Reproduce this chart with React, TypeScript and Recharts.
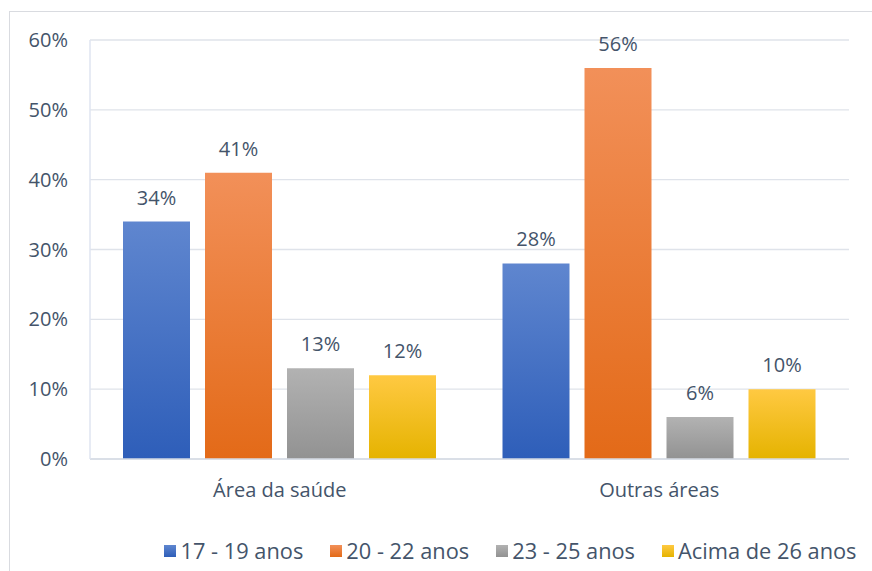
import React from "react";
import { BarChart, Bar, XAxis, YAxis, CartesianGrid, LabelList, Legend } from "recharts";

const categories = ["Área da saúde", "Outras áreas"];
const s1719 = [34, 28];
const s2022 = [41, 56];
const s2325 = [13, 6];
const sAcima = [12, 10];
const seriesNames = ["17 - 19 anos", "20 - 22 anos", "23 - 25 anos", "Acima de 26 anos"];
const yTicks = [0, 10, 20, 30, 40, 50, 60];

const data = categories.map((c, i) => ({
  name: c,
  a: s1719[i],
  b: s2022[i],
  c: s2325[i],
  d: sAcima[i],
}));

const grads = [
  { id: "gA", top: "#5f86cf", bot: "#2e5eb9" },
  { id: "gB", top: "#f29059", bot: "#e36a18" },
  { id: "gC", top: "#b2b2b2", bot: "#929292" },
  { id: "gD", top: "#ffc942", bot: "#e5b300" },
];
const keys = ["a", "b", "c", "d"];
const FONT = "'Open Sans', Lato, sans-serif";
const TXT = "#44546a";

const LegendContent = () => (
  <div
    style={{
      display: "flex",
      justifyContent: "center",
      fontFamily: FONT,
      fontSize: 21.8,
      color: TXT,
      paddingTop: 26,
      lineHeight: "28px",
      whiteSpace: "nowrap",
      transform: "translateX(81px)",
    }}
  >
    {seriesNames.map((n, i) => (
      <div key={n} style={{ display: "flex", alignItems: "center", flexShrink: 0, marginRight: i < 3 ? 27 : 0 }}>
        <div style={{ width: 12, height: 12, marginRight: 4, flexShrink: 0, background: `linear-gradient(${grads[i].top}, ${grads[i].bot})` }} />
        <span>{n}</span>
      </div>
    ))}
  </div>
);

export default function App() {
  return (
    <div style={{ position: "relative", width: 872, height: 571, overflow: "hidden", background: "#fff" }}>
      <style>{`body{margin:0}`}</style>
      <div style={{ position: "absolute", left: 9, top: 11, width: 900, height: 600, border: "1px solid #d9dbe0" }} />
      <div style={{ position: "absolute", left: 0, top: 0 }}>
        <BarChart
          width={872}
          height={571}
          data={data}
          margin={{ top: 40, right: 23, left: 10, bottom: 20 }}
          barCategoryGap={33}
          barGap={15}
        >
          <defs>
            {grads.map((g) => (
              <linearGradient key={g.id} id={g.id} x1="0" y1="0" x2="0" y2="1">
                <stop offset="0%" stopColor={g.top} />
                <stop offset="100%" stopColor={g.bot} />
              </linearGradient>
            ))}
          </defs>
          <CartesianGrid vertical={false} stroke="#dfe3ea" strokeWidth={1.3} />
          <XAxis
            dataKey="name"
            axisLine={{ stroke: "#d6dbe4", strokeWidth: 1.5 }}
            tickLine={false}
            tickSize={6}
            tickMargin={18}
            height={52}
            tick={{ fill: TXT, fontSize: 20, fontFamily: FONT }}
          />
          <YAxis
            domain={[0, 60]}
            ticks={yTicks}
            tickFormatter={(v) => `${v}%`}
            axisLine={{ stroke: "#dfe5f0", strokeWidth: 1.5 }}
            tickLine={false}
            tickSize={6}
            tickMargin={16}
            width={80}
            tick={{ fill: TXT, fontSize: 20, fontFamily: FONT }}
          />
          <YAxis
            yAxisId="r"
            orientation="right"
            domain={[0, 60]}
            ticks={yTicks}
            tick={false}
            tickLine={false}
            width={0}
            axisLine={{ stroke: "#e6e9ef", strokeWidth: 1.3 }}
          />
          {keys.map((k, i) => (
            <Bar key={k} dataKey={k} name={seriesNames[i]} fill={`url(#${grads[i].id})`} isAnimationActive={false}>
              <LabelList
                dataKey={k}
                position="top"
                offset={17}
                formatter={(v: number) => `${v}%`}
                style={{ fill: TXT, fontSize: 20, fontFamily: FONT }}
              />
            </Bar>
          ))}
          <Legend verticalAlign="bottom" height={40} content={<LegendContent />} />
        </BarChart>
      </div>
    </div>
  );
}
